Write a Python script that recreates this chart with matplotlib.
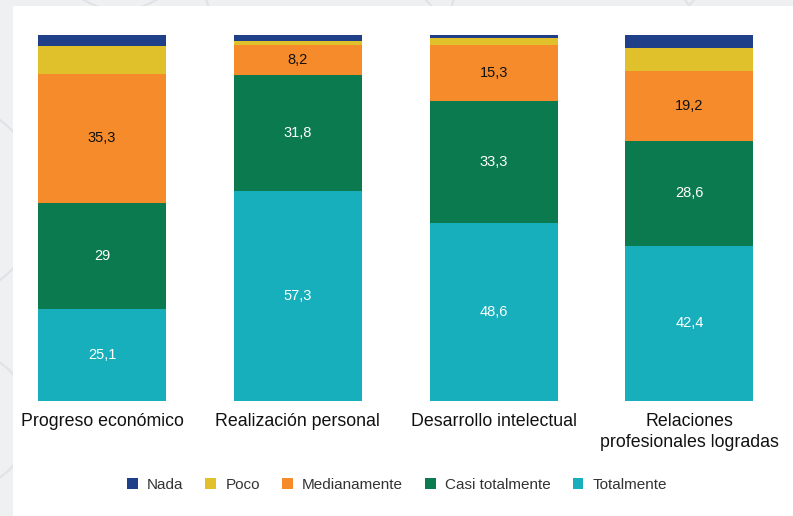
import matplotlib.pyplot as plt
from matplotlib.patches import Rectangle, Circle
import numpy as np

plt.rcParams['font.family'] = ['Liberation Sans', 'DejaVu Sans']

categories = ['Progreso económico', 'Realización personal', 'Desarrollo intelectual',
              'Relaciones\nprofesionales logradas']
series = ['Totalmente', 'Casi totalmente', 'Medianamente', 'Poco', 'Nada']
totalmente = [25.1, 57.3, 48.6, 42.4]
casi_totalmente = [29, 31.8, 33.3, 28.6]
medianamente = [35.3, 8.2, 15.3, 19.2]
poco = [7.6, 1.1, 2.0, 6.2]
nada = [3.0, 1.6, 0.8, 3.6]

colors = {
    'Nada': '#1f4088',
    'Poco': '#e0c02b',
    'Medianamente': '#f58b2b',
    'Casi totalmente': '#0b7a4e',
    'Totalmente': '#17afbb',
}
label_colors = {'Totalmente': 'white', 'Casi totalmente': 'white', 'Medianamente': '#111111'}

W, H = 793, 516
fig = plt.figure(figsize=(W / 100, H / 100), dpi=100, facecolor='#eff0f2')

# background panel with faint decorative rings
bg = fig.add_axes([0, 0, 1, 1])
bg.set_xlim(0, W)
bg.set_ylim(H, 0)
bg.axis('off')
for cx, cy, r in [(120, -60, 70), (330, -40, 130), (560, -120, 180), (800, -80, 140),
                  (-60, 200, 100), (-40, 420, 70)]:
    bg.add_patch(Circle((cx, cy), r, fill=False, ec='#e0e2e6', lw=1.5))
bg.add_patch(Rectangle((13, 6), W - 13, H - 6, fc='white', ec='none'))

# main chart: bar centres at 102 px and 195.8 px apart, 0% at y=401, 100% at y=35
unit = 195.8
x0 = 102
ax = fig.add_axes([0, (H - 401) / H, 1, 366 / H])
ax.set_xlim(-x0 / unit, (W - x0) / unit)
ax.set_ylim(0, 100)
ax.patch.set_alpha(0)
for s in ax.spines.values():
    s.set_visible(False)
ax.set_yticks([])

x = np.arange(len(categories))
data = {'Totalmente': totalmente, 'Casi totalmente': casi_totalmente,
        'Medianamente': medianamente, 'Poco': poco, 'Nada': nada}
bottom = np.zeros(len(categories))
for name in series:
    vals = np.array(data[name], dtype=float)
    ax.bar(x, vals, bottom=bottom, width=128 / unit, color=colors[name],
           edgecolor='none', label=name)
    if name in label_colors:
        for xi, b, v in zip(x, bottom, vals):
            txt = f'{v:g}'.replace('.', ',')
            ax.text(xi, b + v / 2, txt, ha='center', va='center', fontsize=10.5,
                    color=label_colors[name])
    bottom += vals

ax.set_xticks(x)
ax.set_xticklabels(categories, fontsize=12.8, color='#111111', linespacing=1.3)
ax.tick_params(axis='x', length=0, pad=9)

handles = [Rectangle((0, 0), 1, 1, fc=colors[n]) for n in
           ['Nada', 'Poco', 'Medianamente', 'Casi totalmente', 'Totalmente']]
fig.legend(handles, ['Nada', 'Poco', 'Medianamente', 'Casi totalmente', 'Totalmente'],
           loc='center', bbox_to_anchor=(397 / W, 1 - 485 / H), ncol=5, frameon=False,
           fontsize=11, handlelength=0.7, handleheight=0.7, handletextpad=0.6,
           columnspacing=1.45, labelcolor='#333333')

fig.savefig('out.png', dpi=100, facecolor=fig.get_facecolor())
